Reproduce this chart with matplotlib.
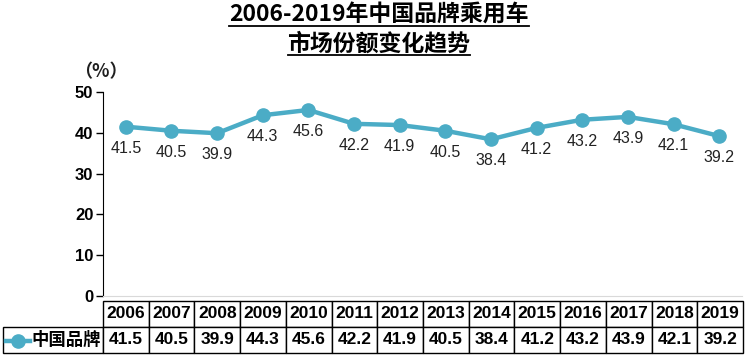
import matplotlib.pyplot as plt
from matplotlib.lines import Line2D

years = ["2006", "2007", "2008", "2009", "2010", "2011", "2012",
         "2013", "2014", "2015", "2016", "2017", "2018", "2019"]
share = [41.5, 40.5, 39.9, 44.3, 45.6, 42.2, 41.9,
         40.5, 38.4, 41.2, 43.2, 43.9, 42.1, 39.2]
series_name = "中国品牌"
title_lines = ["2006-2019年中国品牌乘用车", "市场份额变化趋势"]
yticks = [0, 10, 20, 30, 40, 50]

W, H = 747, 356
color = "#4BACC6"
cjk = ["Noto Sans CJK SC", "DejaVu Sans"]
latin = ["Liberation Sans", "DejaVu Sans"]

fig = plt.figure(figsize=(W / 100, H / 100), dpi=100)
ax_l, ax_r, ax_t, ax_b = 103, 742, 92, 296
ax = fig.add_axes([ax_l / W, 1 - ax_b / H, (ax_r - ax_l) / W, (ax_b - ax_t) / H])

x = list(range(len(years)))
ax.plot(x, share, color=color, lw=3.2, marker="o", markersize=9.5, solid_capstyle="round")
for xi, v in zip(x, share):
    ax.annotate(f"{v:.1f}", (xi, v), xytext=(0, -15.5), textcoords="offset points",
                ha="center", va="center", fontsize=11.5, family=latin, color="#222222")

ax.set_xlim(-0.5, len(years) - 0.5)
ax.set_ylim(0, 50)
ax.set_yticks(yticks)
ax.set_xticks([])
for lab in ax.get_yticklabels():
    lab.set_fontweight("bold")
    lab.set_fontsize(12)
    lab.set_family(latin)
ax.tick_params(axis="y", direction="out", length=5, width=1, pad=2)
ax.spines["top"].set_visible(False)
ax.spines["right"].set_visible(False)
ax.spines["bottom"].set_color("#D9D9D9")
ax.spines["left"].set_color("black")

# data table under the axes
pw = ax_r - ax_l
ph = ax_b - ax_t
tb_left, tb_right, tb_top, tb_bot = 3, 743, 301, 353
label_w = ax_l - tb_left
col_w = (tb_right - ax_l) / len(years)
cell_text = [[""] + years, [series_name] + [f"{v:.1f}" for v in share]]
tbl = ax.table(cellText=cell_text,
               colWidths=[label_w] + [col_w] * len(years),
               bbox=[(tb_left - ax_l) / pw, -(tb_bot - ax_b) / ph,
                     (tb_right - tb_left) / pw, (tb_bot - tb_top) / ph],
               cellLoc="center")
tbl.auto_set_font_size(False)
for (r, c), cell in tbl.get_celld().items():
    cell.set_linewidth(1.0)
    cell.set_edgecolor("black")
    t = cell.get_text()
    t.set_fontsize(12.5)
    t.set_fontweight("bold")
    t.set_family(latin)
    if c == 0:
        if r == 0:
            cell.visible_edges = "open"
        else:
            t.set_family(cjk)
            t.set_ha("right")
            cell.PAD = 0.02

# legend marker in the label cell
ym = 1 - 341 / H
fig.add_artist(Line2D([6 / W, 30 / W], [ym, ym], color=color, lw=3.2))
fig.add_artist(Line2D([18 / W], [ym], color=color, marker="o", markersize=9.5))

fig.text(101 / W, 1 - 72 / H, "（%）", ha="center", va="center",
         fontsize=13, fontweight="bold", family=cjk, color="#1F1F1F")

# underlined two-line title
tys = [1 - 15 / H, 1 - 44 / H]
titles = []
for ty, s in zip(tys, title_lines):
    titles.append(fig.text(379 / W, ty, s, ha="center", va="center",
                           fontsize=16.5, fontweight="bold", family=cjk))
fig.canvas.draw()
r = fig.canvas.get_renderer()
for t in titles:
    bb = t.get_window_extent(r)
    uy = (bb.y0 + 1) / H
    fig.add_artist(Line2D([bb.x0 / W, bb.x1 / W], [uy, uy], color="black", lw=1.3))

fig.savefig("out.png", dpi=100)
